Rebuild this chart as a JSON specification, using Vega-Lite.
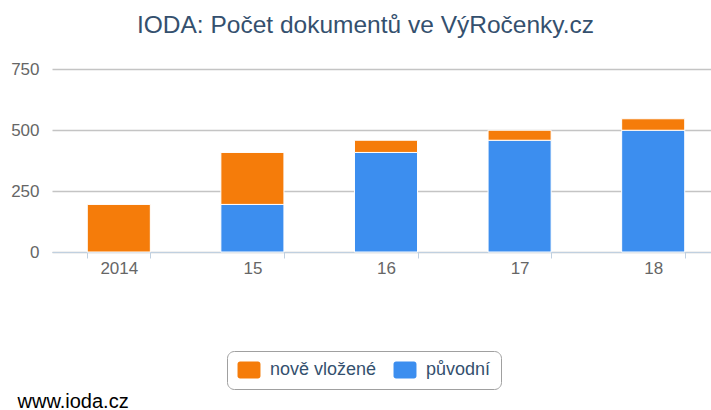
{
  "$schema": "https://vega.github.io/schema/vega-lite/v6.json",
  "autosize": {"type": "none"},
  "padding": {"left": 52, "top": 69, "right": 0, "bottom": 158},
  "width": 659,
  "height": 183,
  "background": "white",
  "title": {
    "text": "IODA: Počet dokumentů ve VýRočenky.cz",
    "font": "Liberation Sans",
    "fontSize": 24.5,
    "fontWeight": "normal",
    "color": "#34506e",
    "anchor": "middle",
    "frame": "group",
    "baseline": "alphabetic",
    "offset": 3,
    "dx": -16
  },
  "data": {
    "values": [
      {"rok": "2014", "serie": "nově vložené", "pocet": 195},
      {"rok": "15", "serie": "původní", "pocet": 195},
      {"rok": "15", "serie": "nově vložené", "pocet": 213},
      {"rok": "16", "serie": "původní", "pocet": 408},
      {"rok": "16", "serie": "nově vložené", "pocet": 50},
      {"rok": "17", "serie": "původní", "pocet": 458},
      {"rok": "17", "serie": "nově vložené", "pocet": 41},
      {"rok": "18", "serie": "původní", "pocet": 499},
      {"rok": "18", "serie": "nově vložené", "pocet": 47}
    ]
  },
  "mark": {"type": "bar", "stroke": "white", "strokeWidth": 1},
  "encoding": {
    "x": {
      "field": "rok",
      "type": "nominal",
      "sort": null,
      "scale": {"range": [0, 668], "paddingInner": 0.528, "paddingOuter": 0.264},
      "axis": {
        "title": "www.ioda.cz",
        "titleFont": "Liberation Sans",
        "titleFontSize": 20,
        "titleFontWeight": "normal",
        "titleColor": "#000000",
        "titleAnchor": "start",
        "titleAlign": "left",
        "titleBaseline": "alphabetic",
        "titleX": -35,
        "titleY": 155,
        "labelAngle": 0,
        "labelFont": "Liberation Sans",
        "labelFontSize": 17,
        "labelColor": "#666666",
        "labelPadding": 2,
        "domainColor": "#C0D0E0",
        "domainWidth": 1,
        "tickColor": "#C0D0E0",
        "tickSize": 6,
        "tickBand": "extent",
        "grid": false
      }
    },
    "y": {
      "field": "pocet",
      "type": "quantitative",
      "aggregate": "sum",
      "stack": "zero",
      "scale": {"domain": [0, 750], "nice": false},
      "axis": {
        "title": null,
        "values": [0, 250, 500, 750],
        "labelFont": "Liberation Sans",
        "labelFontSize": 17,
        "labelColor": "#666666",
        "labelPadding": 13,
        "domain": false,
        "ticks": false,
        "grid": true,
        "gridColor": "#C4C4C4",
        "gridWidth": 1.5
      }
    },
    "color": {
      "field": "serie",
      "type": "nominal",
      "scale": {"domain": ["nově vložené", "původní"], "range": ["#F57C0A", "#3C8EEF"]},
      "legend": {
        "title": null,
        "orient": "none",
        "legendX": 175,
        "legendY": 282,
        "direction": "horizontal",
        "padding": 10,
        "strokeColor": "#A0A0A0",
        "cornerRadius": 7,
        "symbolType": "M-1.05,-1 H1.05 A0.3,0.3 0 0 1 1.35,-0.7 V0.7 A0.3,0.3 0 0 1 1.05,1 H-1.05 A0.3,0.3 0 0 1 -1.35,0.7 V-0.7 A0.3,0.3 0 0 1 -1.05,-1 Z",
        "symbolSize": 289,
        "symbolStrokeWidth": 0,
        "symbolOffset": 3,
        "labelFont": "Liberation Sans",
        "labelFontSize": 18,
        "labelColor": "#34506e",
        "labelOffset": 12,
        "columnPadding": 16
      }
    },
    "order": {"field": "serie", "sort": "descending"}
  },
  "config": {"view": {"stroke": null}}
}
